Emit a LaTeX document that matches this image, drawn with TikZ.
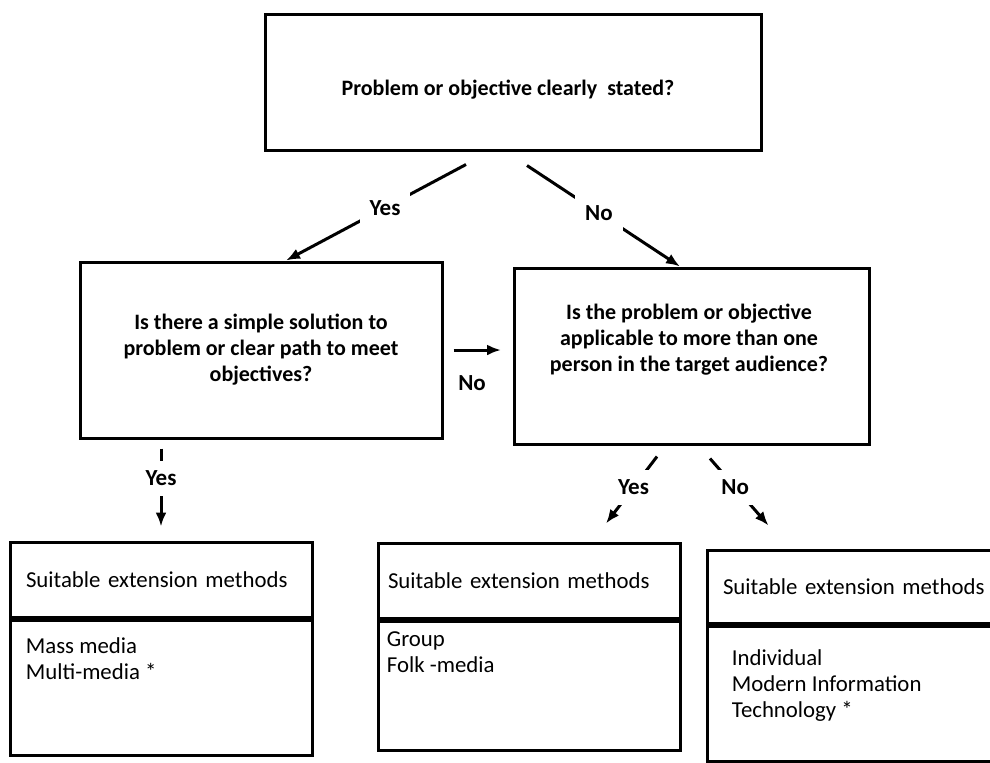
\documentclass[tikz,border=0pt]{standalone}
\usepackage{fontspec}
\setmainfont{Carlito}
\usetikzlibrary{calc,arrows.meta}

\begin{document}
\begin{tikzpicture}[x=0.5pt,y=-0.5pt]
        \tikzstyle{question}=[rectangle,draw=black,line width=1.5pt,inner sep=0pt]
        \tikzstyle{qtext}=[align=center,inner sep=0pt,font=\bfseries\fontsize{11}{13}\selectfont]
        \tikzstyle{header}=[rectangle,draw=black,line width=1.5pt,minimum width=151pt,
        text width=135pt,minimum height=37.5pt,inner xsep=8pt,align=left,font=\fontsize{11.4}{13}\selectfont]
        \tikzstyle{body}=[rectangle,draw=black,line width=1.5pt,minimum width=151pt,anchor=north]
        \tikzstyle{bodytext}=[anchor=north west,align=left,inner sep=0pt,font=\fontsize{11.4}{13}\selectfont]
        \tikzstyle{answer}=[fill=white,inner sep=5pt,font=\bfseries\fontsize{11.5}{13}\selectfont]
        \tikzstyle{arrow}=[line width=1.5pt,-{Latex[length=7pt,width=5.5pt]}]
        \useasboundingbox (0,0) rectangle (990,762);
        % questions
        \node at (513,82) [question,minimum width=248pt,minimum height=68pt] (q1) {};
        \node at (508,90) [qtext] (q1txt) {Problem or objective clearly\ \ stated?};
        \node at (261,350) [question,minimum width=181pt,minimum height=88pt,qtext] (q2)
        {Is there a simple solution to\\problem or clear path to meet\\objectives?};
        \node at (692,356) [question,minimum width=177.5pt,minimum height=88pt] (q3) {};
        \node at (689,340) [qtext] (q3txt) {Is the problem or objective\\applicable to more than one\\person in the target audience?};
        % methods
        \node at (161,579.5) [header] (m1h) {Suitable extension methods};
        \node at (m1h.south) [body,minimum height=67.5pt] (m1b) {};
        \node at ($(m1b.north west)+(17,19)$) [bodytext] (m1txt) {Mass media\\Multi-media *};
        \node at (529,580.5) [header,inner xsep=5pt,text width=141pt] (m2h) {Suitable extension methods};
        \node at (m2h.south) [body,minimum height=64.5pt] (m2b) {};
        \node at ($(m2b.north west)+(10,12)$) [bodytext] (m2txt) {Group\\Folk -media};
        \node at (858,586.5) [header,minimum height=36.5pt] (m3h) {Suitable extension methods};
        \node at (m3h.south) [body,minimum height=67.5pt] (m3b) {};
        \node at ($(m3b.north west)+(26,25)$) [bodytext] (m3txt) {Individual\\Modern Information\\Technology *};
        % answers
        \draw[arrow] ($(q1.south)+(-47,13)$) -- node[answer,pos=0.45] (yes1) {Yes} ($(q2.north)+(25,0)$);
        \draw[arrow] ($(q1.south)+(14,14)$) -- node[answer,pos=0.47] (no1) {No} ($(q3.north)+(-12,0)$);
        \draw[arrow] ($(q2.east)+(10,0)$) -- node[answer,pos=0.39,below=7pt] (no2) {No} ($(q3.west|-q2.east)+(-12,0)$);
        \draw[arrow] ($(q2.south-|m1h.north)+(0,9)$) -- node[answer,pos=0.38] (yes2) {Yes} ($(m1h.north)+(0,-14)$);
        \draw[arrow] ($(q3.south)+(-35,11)$) -- node[answer,pos=0.46] (yes3) {Yes} ($(m2h.north)+(77,-18)$);
        \draw[arrow] ($(q3.south)+(18,13)$) -- node[answer,pos=0.43] (no3) {No} ($(m3h.north west)+(63,-23)$);
\end{tikzpicture}
\end{document}
